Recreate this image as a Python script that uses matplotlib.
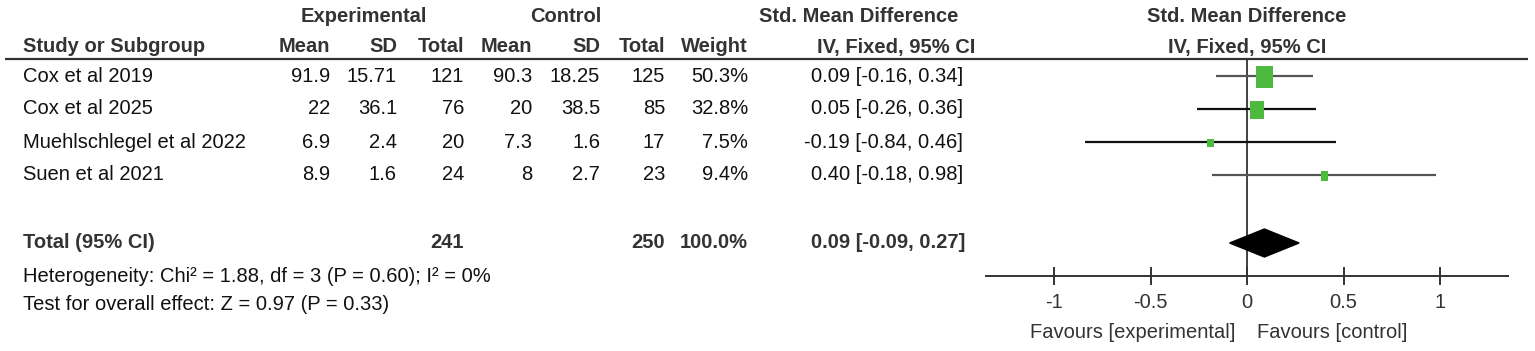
import numpy as np
import matplotlib
matplotlib.use("Agg")
from matplotlib import pyplot as plt
from matplotlib.patches import Rectangle, Polygon

plt.rcParams['font.family'] = ['Liberation Sans', 'DejaVu Sans']

# data
studies = ["Cox et al 2019", "Cox et al 2025", "Muehlschlegel et al 2022", "Suen et al 2021"]
exp_mean = ["91.9", "22", "6.9", "8.9"]
exp_sd = ["15.71", "36.1", "2.4", "1.6"]
exp_n = [121, 76, 20, 24]
ctl_mean = ["90.3", "20", "7.3", "8"]
ctl_sd = ["18.25", "38.5", "1.6", "2.7"]
ctl_n = [125, 85, 17, 23]
weight = [50.3, 32.8, 7.5, 9.4]
smd = [0.09, 0.05, -0.19, 0.40]
ci_lo = [-0.16, -0.26, -0.84, -0.18]
ci_hi = [0.34, 0.36, 0.46, 0.98]

total_smd = 0.09
total_lo = -0.09
total_hi = 0.27
heterogeneity = "Heterogeneity: Chi² = 1.88, df = 3 (P = 0.60); I² = 0%"
overall = "Test for overall effect: Z = 0.97 (P = 0.33)"
ticks = [-1, -0.5, 0, 0.5, 1]
tick_labels = ["-1", "-0.5", "0", "0.5", "1"]

W, H = 1535, 351
fig = plt.figure(figsize=(W / 100, H / 100), dpi=100)

# table axes in pixel coords
ax = fig.add_axes([0, 0, 1, 1])
ax.set_xlim(0, W)
ax.set_ylim(H, 0)
ax.set_axis_off()

# forest axes: x in SMD units, y in pixels
xmax = 1.36
x0_px, unit_px = 1247, 193
left = (x0_px - xmax * unit_px) / W
fax = fig.add_axes([left, 0, 2 * xmax * unit_px / W, 1])
fax.set_xlim(-xmax, xmax)
fax.set_ylim(H, 0)
fax.set_axis_off()

FS = 14.5
hdr = dict(fontsize=FS, fontweight='bold', color='#333333', va='center')
body = dict(fontsize=FS, color='#111111', va='center')

y_h1, y_h2, y_line = 17, 47, 59
row_y = [76 + 33 * i for i in range(len(studies))]
y_total = 243
y_het = 277
y_test = 304
y_axis = 276

# headers
ax.text(364, y_h1, "Experimental", ha='center', **hdr)
ax.text(566, y_h1, "Control", ha='center', **hdr)
ax.text(859, y_h1, "Std. Mean Difference", ha='center', **hdr)
fax.text(0, y_h1, "Std. Mean Difference", ha='center', **hdr)

cols = [330, 397, 464, 532, 600, 665, 748]
for x, lab in zip(cols, ["Mean", "SD", "Total", "Mean", "SD", "Total", "Weight"]):
    ax.text(x, y_h2, lab, ha='right', **hdr)
ax.text(23, y_h2, "Study or Subgroup", ha='left', **hdr)
ax.text(896, y_h2, "IV, Fixed, 95% CI", ha='center', **hdr)
fax.text(0, y_h2, "IV, Fixed, 95% CI", ha='center', **hdr)

ax.plot([5, 1528], [y_line, y_line], color='#333333', lw=1.6, solid_capstyle='butt')

# study rows
for i, y in enumerate(row_y):
    ax.text(23, y, studies[i], ha='left', **body)
    vals = [exp_mean[i], exp_sd[i], str(exp_n[i]), ctl_mean[i], ctl_sd[i],
            str(ctl_n[i]), f"{weight[i]:.1f}%"]
    for x, v in zip(cols, vals):
        ax.text(x, y, v, ha='right', **body)
    ax.text(963, y, f"{smd[i]:.2f} [{ci_lo[i]:.2f}, {ci_hi[i]:.2f}]", ha='right', **body)

    lc = '#111111' if i in (1, 2) else '#555555'
    fax.plot([ci_lo[i], ci_hi[i]], [y, y], color=lc, lw=1.6, solid_capstyle='butt', zorder=2)
    s = np.sqrt(weight[i] / max(weight))
    w_d = 17 * s / unit_px
    h_p = 22 * s
    fax.add_patch(Rectangle((smd[i] - w_d / 2, y - h_p / 2 + 1), w_d, h_p,
                            facecolor='#4dba3f', edgecolor='none', zorder=3))

# total row
ax.text(23, y_total, "Total (95% CI)", ha='left', **hdr)
ax.text(464, y_total, str(sum(exp_n)), ha='right', **hdr)
ax.text(665, y_total, str(sum(ctl_n)), ha='right', **hdr)
ax.text(748, y_total, f"{sum(weight):.1f}%", ha='right', **hdr)
ax.text(965, y_total, f"{total_smd:.2f} [{total_lo:.2f}, {total_hi:.2f}]", ha='right', **hdr)
ax.text(23, y_het, heterogeneity, ha='left', **body)
ax.text(23, y_test, overall, ha='left', **body)

fax.add_patch(Polygon([(total_lo, y_total), (total_smd, y_total - 14),
                       (total_hi, y_total), (total_smd, y_total + 14)],
                      closed=True, facecolor='black', edgecolor='black', zorder=3))

# zero line and axis
fax.plot([0, 0], [y_line, y_axis], color='#333333', lw=1.3, zorder=1)
fax.plot([-xmax, xmax], [y_axis, y_axis], color='#333333', lw=1.4)
for t, tl in zip(ticks, tick_labels):
    fax.plot([t, t], [y_axis - 8, y_axis + 8], color='#333333', lw=1.4)
    fax.text(t, 303, tl, ha='center', va='center', fontsize=FS, color='#333333')
fax.text(-0.06, 333, "Favours [experimental]", ha='right', va='center', fontsize=FS, color='#333333')
fax.text(0.05, 333, "Favours [control]", ha='left', va='center', fontsize=FS, color='#333333')

fig.savefig("out.png", dpi=100)
